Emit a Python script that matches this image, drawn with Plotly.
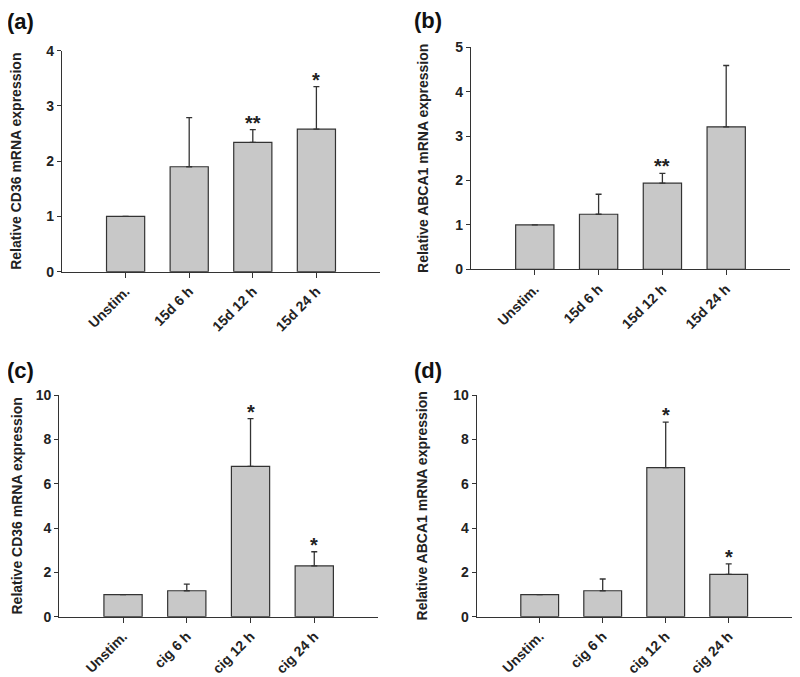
import plotly.graph_objects as go

W, H = 800, 677
OFF = 8  # page body margin of the browser

cats_15d = ["Unstim.", "15d 6 h", "15d 12 h", "15d 24 h"]
cats_cig = ["Unstim.", "cig 6 h", "cig 12 h", "cig 24 h"]

cd36_15d = [1.0, 1.90, 2.34, 2.58]
cd36_15d_err = [0, 0.89, 0.23, 0.77]
cd36_15d_sig = ["", "", "**", "*"]

abca1_15d = [1.0, 1.24, 1.94, 3.21]
abca1_15d_err = [0, 0.45, 0.22, 1.38]
abca1_15d_sig = ["", "", "**", ""]

cd36_cig = [1.0, 1.17, 6.78, 2.29]
cd36_cig_err = [0, 0.30, 2.15, 0.64]
cd36_cig_sig = ["", "", "*", "*"]

abca1_cig = [1.0, 1.17, 6.72, 1.91]
abca1_cig_err = [0, 0.53, 2.06, 0.47]
abca1_cig_sig = ["", "", "*", "*"]

panels = [
    dict(letter="(a)", cats=cats_15d, vals=cd36_15d, err=cd36_15d_err, sig=cd36_15d_sig,
         ymax=4, dtick=1, title="Relative CD36 mRNA expression",
         px=(62, 380), py=(50.7, 271.7), lab=(20, 21), standoff=21),
    dict(letter="(b)", cats=cats_15d, vals=abca1_15d, err=abca1_15d_err, sig=abca1_15d_sig,
         ymax=5, dtick=1, title="Relative ABCA1 mRNA expression",
         px=(471, 790), py=(47.3, 269.3), lab=(428, 20), standoff=23),
    dict(letter="(c)", cats=cats_cig, vals=cd36_cig, err=cd36_cig_err, sig=cd36_cig_sig,
         ymax=10, dtick=2, title="Relative CD36 mRNA expression",
         px=(59.3, 378), py=(395, 616.7), lab=(20, 370), standoff=9),
    dict(letter="(d)", cats=cats_cig, vals=abca1_cig, err=abca1_cig_err, sig=abca1_cig_sig,
         ymax=10, dtick=2, title="Relative ABCA1 mRNA expression",
         px=(476.7, 791.7), py=(395, 616.7), lab=(428, 370), standoff=22),
]

FONT = "Arial, Liberation Sans, sans-serif"
LINE = "#333333"
BAR = "#c8c8c8"

fig = go.Figure()
layout = dict(width=W, height=H, margin=dict(l=0, r=0, t=0, b=0, autoexpand=False),
              template="none",
              paper_bgcolor="white", plot_bgcolor="white", showlegend=False,
              font=dict(family=FONT, color="#222222"))
annotations = []

for i, p in enumerate(panels):
    n = i + 1
    xa = "x" if n == 1 else f"x{n}"
    ya = "y" if n == 1 else f"y{n}"
    fig.add_trace(go.Bar(
        x=list(range(len(p["cats"]))), y=p["vals"], width=0.6,
        marker=dict(color=BAR, line=dict(color=LINE, width=1.2)),
        error_y=dict(type="data", array=p["err"], arrayminus=[0] * len(p["err"]),
                     symmetric=False, color=LINE, thickness=1.3, width=3),
        xaxis=xa, yaxis=ya, hoverinfo="skip"))
    xdom = [(p["px"][0] - OFF) / W, (p["px"][1] - OFF) / W]
    ydom = [1 - (p["py"][1] - OFF) / H, 1 - (p["py"][0] - OFF) / H]
    xkey = "xaxis" if n == 1 else f"xaxis{n}"
    ykey = "yaxis" if n == 1 else f"yaxis{n}"
    layout[xkey] = dict(domain=xdom, anchor=ya, range=[-1, 4], automargin=False,
                        tickmode="array", tickvals=list(range(len(p["cats"]))),
                        ticktext=[f"<b>{c}</b>" for c in p["cats"]],
                        tickangle=-45, ticks="outside", ticklen=5, tickwidth=1,
                        tickcolor=LINE, showline=True, linecolor=LINE, linewidth=1.2,
                        showgrid=False, zeroline=False,
                        tickfont=dict(size=14, family=FONT, color="#222222"))
    layout[ykey] = dict(domain=ydom, anchor=xa, range=[0, p["ymax"]], dtick=p["dtick"],
                        automargin=False,
                        ticks="outside", ticklen=4, tickwidth=1, tickcolor=LINE,
                        showline=True, linecolor=LINE, linewidth=1.2,
                        showgrid=False, zeroline=False,
                        tickfont=dict(size=14, family=FONT, color="#222222"),
                        tickprefix="<b>", ticksuffix="</b>",
                        title=dict(text=f"<b>{p['title']}</b>", standoff=p["standoff"],
                                   font=dict(size=14, family=FONT, color="#222222")))
    annotations.append(dict(text=f"<b>{p['letter']}</b>", xref="paper", yref="paper",
                            x=(p["lab"][0] - OFF) / W, y=1 - (p["lab"][1] - OFF) / H,
                            xanchor="center", yanchor="middle", showarrow=False,
                            font=dict(size=22, family=FONT, color="#111111")))
    for j, s in enumerate(p["sig"]):
        if s:
            annotations.append(dict(text=f"<b>{s}</b>", xref=xa, yref=ya, x=j,
                                    y=p["vals"][j] + p["err"][j],
                                    xanchor="center", yanchor="bottom", yshift=-6,
                                    showarrow=False,
                                    font=dict(size=20, family=FONT, color="#222222")))

layout["annotations"] = annotations
fig.update_layout(**layout)
fig.write_html("out.html")
